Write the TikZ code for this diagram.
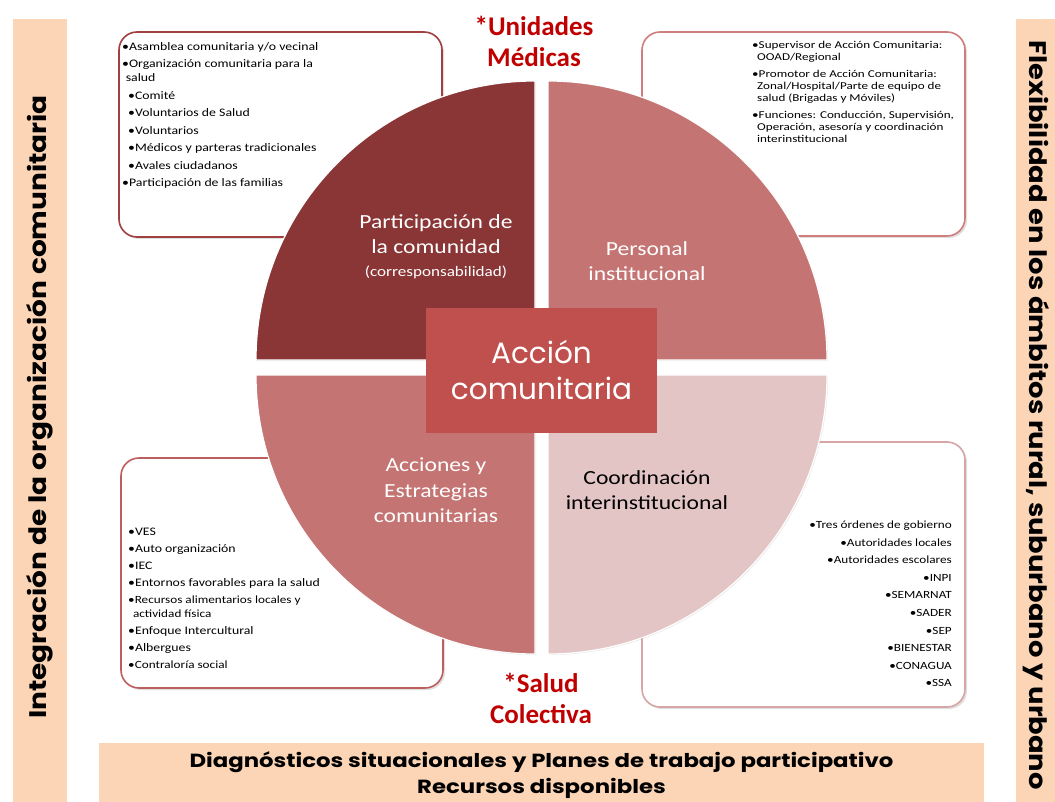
\documentclass[tikz,border=0pt]{standalone}
\usepackage{fontspec}
\usepackage{graphicx}
\setmainfont{Carlito}
\newfontfamily\pop{Poppins}
\usetikzlibrary{shadows}
\definecolor{qdark}{RGB}{139,54,54}
\definecolor{qmid}{RGB}{196,117,115}
\definecolor{qlight}{RGB}{228,197,197}
\definecolor{cbox}{RGB}{192,80,77}
\definecolor{peach}{RGB}{251,213,181}
\definecolor{tred}{RGB}{192,0,0}
\definecolor{bTL}{RGB}{160,64,64}
\definecolor{bTR}{RGB}{208,125,125}
\definecolor{bBL}{RGB}{190,95,95}
\definecolor{bBR}{RGB}{215,165,165}
\newcommand\sxtab[3]{\scalebox{#1}[1]{\begin{tabular}{@{}#2@{}}#3\end{tabular}}}
\tikzset{
  bar/.style={fill=peach, draw=none, inner sep=0pt, anchor=north west},
  infobox/.style={rounded corners=18pt, line width=1.6pt, fill=white, inner sep=0pt,
    drop shadow={shadow xshift=2pt, shadow yshift=-2pt, opacity=0.25}},
  quad/.style={draw=white, line width=1.2pt,
    drop shadow={shadow xshift=1pt, shadow yshift=-1pt, opacity=0.18}},
  boxtext/.style={inner sep=0pt},
  qlabel/.style={inner sep=0pt, font=\fontsize{20}{25.5}\selectfont},
  title/.style={align=center, inner sep=0pt, text=tred, font=\bfseries\fontsize{27}{31}\selectfont},
  bartext/.style={inner sep=0pt, font=\pop\bfseries\fontsize{24}{28}\selectfont}
}
\begin{document}
\begin{tikzpicture}[x=1pt,y=-1pt]
\useasboundingbox (0,0) rectangle (1055,802);
\fill[white] (0,0) rectangle (1055,802);

% side and bottom bars
\node[bar, minimum width=54pt, minimum height=783pt] (lbar) at (13,19) {};
\node[bar, minimum width=39pt, minimum height=783pt] (rbar) at (1016,19) {};
\node[bar, minimum width=885pt, minimum height=59pt] (bbar) at (99,743) {};
\node[bartext, rotate=90] (ltext) at (40,407) {\scalebox{1.165}[1]{Integración de la organización comunitaria}};
\node[bartext, rotate=-90] (rtext) at (1036,415) {\scalebox{1.14}[1]{Flexibilidad en los ámbitos rural, suburbano y urbano}};
\node[inner sep=0pt, font=\pop\bfseries\fontsize{19}{26}\selectfont] (btext) at (541.5,775) {\sxtab{1.2}{c}{Diagnósticos situacionales y Planes de trabajo participativo\\Recursos disponibles}};

% information boxes
\node[infobox, draw=bTL, minimum width=323pt, minimum height=205pt] (boxTL) at (280.5,134.5) {};
\node[infobox, draw=bTR, minimum width=323pt, minimum height=204pt] (boxTR) at (803.5,134) {};
\node[infobox, draw=bBL, minimum width=322pt, minimum height=230pt] (boxBL) at (282,573) {};
\node[infobox, draw=bBR, minimum width=323pt, minimum height=265pt] (boxBR) at (803.5,574.5) {};

% quadrants
\fill[qdark, quad] (535,360) -- ++(-279,0) arc[start angle=180, end angle=270, radius=279] -- cycle;
\fill[qmid, quad] (548,360) -- ++(0,-279) arc[start angle=270, end angle=360, radius=279] -- cycle;
\fill[qlight, quad] (548,375) -- ++(279,0) arc[start angle=0, end angle=90, radius=279] -- cycle;
\fill[qmid, quad] (535,375) -- ++(0,279) arc[start angle=90, end angle=180, radius=279] -- cycle;

% centre
\node[fill=cbox, minimum width=231pt, minimum height=125pt, inner sep=0pt] (centre) at (541.5,370.5) {};
\node[align=center, inner sep=0pt, text=white, font=\pop\fontsize{29.5}{36}\selectfont] (centretext) at (541.5,370) {Acción\\comunitaria};

% quadrant labels
\node[qlabel, text=white] (lTL) at (436,247) {\sxtab{1.18}{c}{Participación de\\la comunidad\\[-3pt]{\fontsize{14.5}{18}\selectfont(corresponsabilidad)}}};
\node[qlabel, text=white] (lTR) at (647,263) {\sxtab{1.18}{c}{Personal\\institucional}};
\node[qlabel, text=white] (lBL) at (436,492) {\sxtab{1.18}{c}{Acciones y\\Estrategias\\comunitarias}};
\node[qlabel, text=black] (lBR) at (647,492) {\sxtab{1.18}{c}{Coordinación\\interinstitucional}};

% titles
\node[title] (tTop) at (534,41) {*Unidades\\Médicas};
\node[title] (tBot) at (541,698) {*Salud\\Colectiva};

% box texts
\node[boxtext, anchor=north west, font=\fontsize{11.5}{17.5}\selectfont] (txtTL) at (122,38) {\sxtab{1.2}{l}{%
•Asamblea comunitaria y/o vecinal\\
•Organización comunitaria para la\\[-3.5pt]
\hspace*{3pt}salud\\
\hspace*{5pt}•Comité\\
\hspace*{5pt}•Voluntarios de Salud\\
\hspace*{5pt}•Voluntarios\\
\hspace*{5pt}•Médicos y parteras tradicionales\\
\hspace*{5pt}•Avales ciudadanos\\
•Participación de las familias}};

\node[boxtext, anchor=north west, font=\fontsize{10.5}{12}\selectfont] (txtTR) at (752,40) {\sxtab{1.25}{l}{%
•Supervisor de Acción Comunitaria:\\
\hspace*{4pt}OOAD/Regional\\[5pt]
•Promotor de Acción Comunitaria:\\
\hspace*{4pt}Zonal/Hospital/Parte de equipo de\\
\hspace*{4pt}salud (Brigadas y Móviles)\\[5pt]
•Funciones: Conducción, Supervisión,\\
\hspace*{4pt}Operación, asesoría y coordinación\\
\hspace*{4pt}interinstitucional}};

\node[boxtext, anchor=north west, font=\fontsize{11.5}{17}\selectfont] (txtBL) at (128,523) {\sxtab{1.2}{l}{%
•VES\\
•Auto organización\\
•IEC\\
•Entornos favorables para la salud\\
{\fontsize{11}{12}\selectfont •Recursos alimentarios locales y}\\[-3pt]
{\fontsize{11}{12}\selectfont \hspace*{4pt}actividad física}\\
•Enfoque Intercultural\\
•Albergues\\
{\fontsize{11}{12}\selectfont •Contraloría social}}};

\node[boxtext, anchor=north east, font=\fontsize{11}{17.6}\selectfont] (txtBR) at (952,516) {\sxtab{1.2}{r}{%
•Tres órdenes de gobierno\\
•Autoridades locales\\
•Autoridades escolares\\
•INPI\\
•SEMARNAT\\
•SADER\\
•SEP\\
•BIENESTAR\\
•CONAGUA\\
•SSA}};
\end{tikzpicture}
\end{document}
